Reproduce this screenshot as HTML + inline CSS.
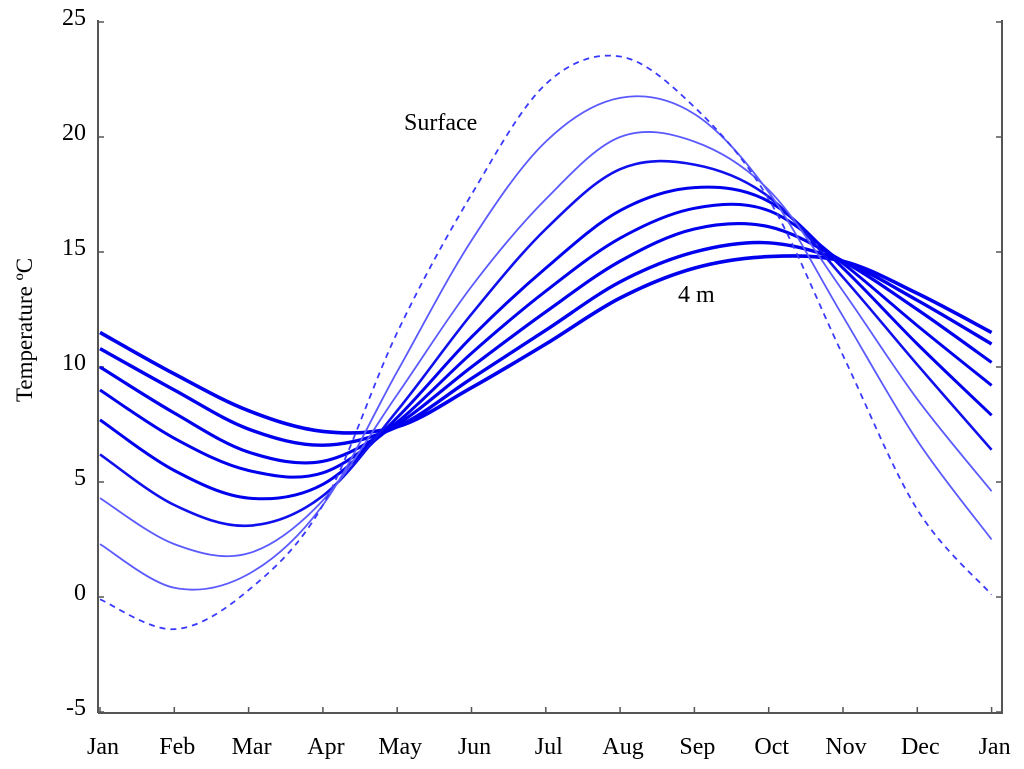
<!DOCTYPE html>
<html><head><meta charset="utf-8"><style>
body{margin:0;background:#fff;}
svg{display:block;font-family:"Liberation Serif",serif;}
</style></head><body>
<svg id="chart" width="1024" height="769" viewBox="0 0 1024 769"></svg>
<script>
const months=["Jan","Feb","Mar","Apr","May","Jun","Jul","Aug","Sep","Oct","Nov","Dec","Jan"];
const yTicks=[-5,0,5,10,15,20,25];
const surface=[-0.1,-1.4,0.3,4.0,11.5,17.5,22.3,23.5,21.3,17.3,10.5,3.8,0.1];
const depth1=[2.3,0.4,1.0,4.0,9.8,15.5,19.8,21.7,21.0,17.6,12.2,6.8,2.5];
const depth2=[4.3,2.3,1.9,4.2,8.8,13.5,17.3,20.0,19.8,17.7,13.3,8.6,4.6];
const depth3=[6.2,4.0,3.1,4.4,8.1,12.3,16.0,18.6,18.8,17.4,13.9,10.1,6.4];
const depth4=[7.7,5.5,4.3,4.9,7.8,11.3,14.3,16.8,17.8,17.2,14.3,11.0,7.9];
const depth5=[9.0,6.9,5.5,5.4,7.6,10.6,13.3,15.6,16.9,16.8,14.5,11.8,9.2];
const depth6=[10.0,8.0,6.3,5.9,7.5,10.0,12.4,14.6,16.0,16.1,14.6,12.5,10.2];
const depth7=[10.8,9.0,7.3,6.6,7.4,9.5,11.6,13.7,15.0,15.4,14.6,12.9,11.0];
const depth8=[11.5,9.7,8.1,7.2,7.4,9.1,11.0,13.0,14.3,14.8,14.6,13.2,11.5];

const svg=document.getElementById('chart');
const NS='http://www.w3.org/2000/svg';
const x=i=>100+i*74.3;
const y=v=>597-v*23;
function mk(t,a,p){const e=document.createElementNS(NS,t);for(const k in a)e.setAttribute(k,a[k]);(p||svg).appendChild(e);return e;}
function path(vals){
  const pts=vals.map((v,i)=>[x(i),y(v)]);
  let d=`M${pts[0][0]},${pts[0][1]}`;
  for(let i=0;i<pts.length-1;i++){
    const p0=pts[Math.max(0,i-1)],p1=pts[i],p2=pts[i+1],p3=pts[Math.min(pts.length-1,i+2)];
    const c1=[p1[0]+(p2[0]-p0[0])/6,p1[1]+(p2[1]-p0[1])/6];
    const c2=[p2[0]-(p3[0]-p1[0])/6,p2[1]-(p3[1]-p1[1])/6];
    d+=` C${c1[0]},${c1[1]} ${c2[0]},${c2[1]} ${p2[0]},${p2[1]}`;
  }
  return d;
}
let ax=mk('line',{x1:98,y1:20,x2:98,y2:713,stroke:'#555','stroke-width':2});


let rx=mk('line',{x1:1002,y1:20,x2:1002,y2:713,stroke:'#555','stroke-width':2});


let bx=mk('line',{x1:98,y1:713,x2:1003,y2:713,stroke:'#555','stroke-width':2});


yTicks.forEach(v=>{
  const t=mk('text',{x:86,y:y(v)+3,'text-anchor':'end','font-size':24,fill:'#000'});
  t.textContent=v;
  
  
  const tk=mk('line',{x1:98,y1:y(v),x2:104,y2:y(v),stroke:'#555','stroke-width':1.5});
  
  
  const tk2=mk('line',{x1:996,y1:y(v),x2:1002,y2:y(v),stroke:'#555','stroke-width':1.5});
  
  
});
months.forEach((m,i)=>{
  const t=mk('text',{x:x(i)+3,y:754,'text-anchor':'middle','font-size':24,fill:'#000'});
  t.textContent=m;
  
  
  const tk=mk('line',{x1:x(i),y1:713,x2:x(i),y2:707,stroke:'#555','stroke-width':1.5});
  
  
});
const yl=mk('text',{x:0,y:0,transform:'translate(32,330) rotate(-90)','text-anchor':'middle','font-size':23,fill:'#000'});
yl.textContent='Temperature ºC';


const series=[[depth8,'#0000ee',3.6],[depth7,'#0000ee',3.4],[depth6,'#0000ee',3.2],[depth5,'#0000ee',3],[depth4,'#0000ee',3],[depth3,'#1010ee',2.6],[depth2,'#5a5aff',1.8],[depth1,'#5a5aff',1.8]];
series.forEach((s,i)=>{
  const p=mk('path',{d:path(s[0]),fill:'none',stroke:s[1],'stroke-width':s[2]});
  
  
});
const sp=mk('path',{d:path(surface),fill:'none',stroke:'#3a3aff','stroke-width':1.8,'stroke-dasharray':'6,5'});


const l1=mk('text',{x:404,y:130,'font-size':24,fill:'#000'});
l1.textContent='Surface';


const l2=mk('text',{x:678,y:302,'font-size':24,fill:'#000'});
l2.textContent='4 m';


</script>
</body></html>
